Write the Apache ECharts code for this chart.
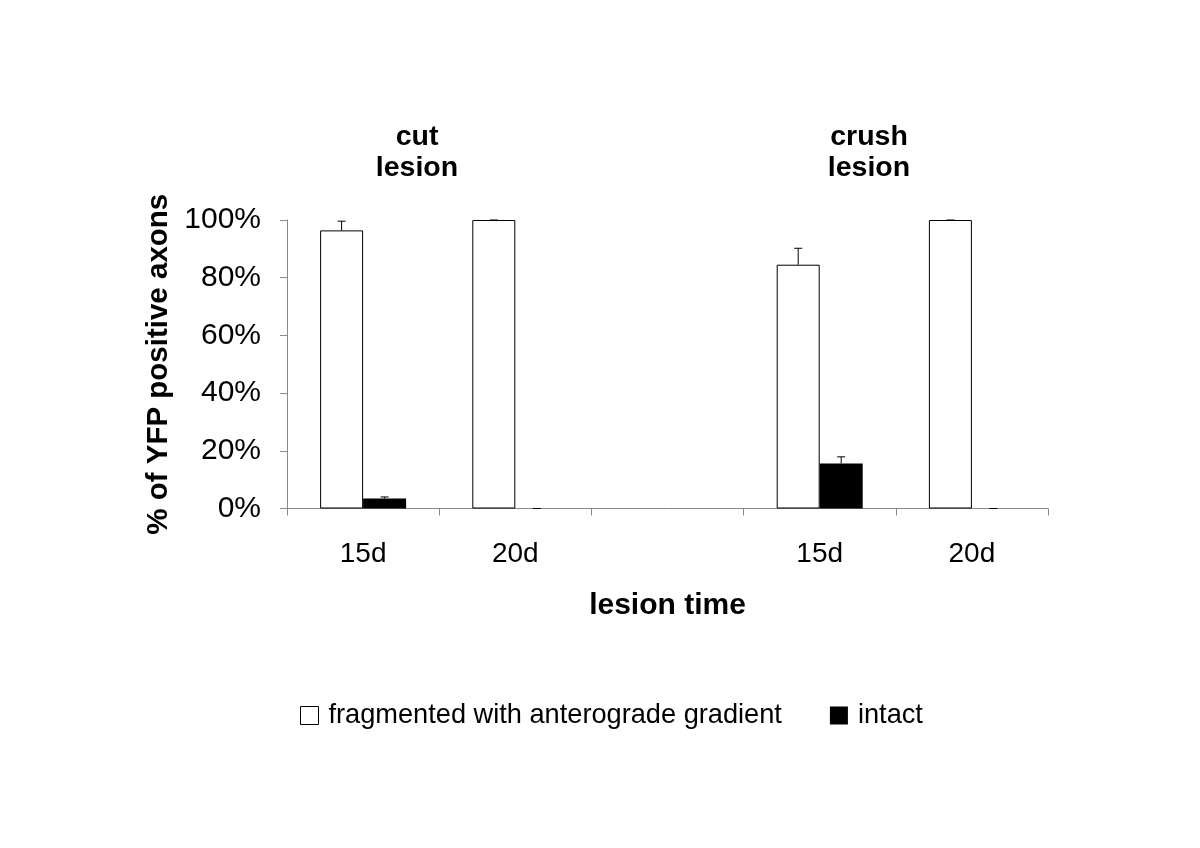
<!DOCTYPE html>
<html>
<head>
<meta charset="utf-8">
<script src="https://cdn.jsdelivr.net/npm/echarts@6/dist/echarts.min.js"></script>
<style>html,body{margin:0;padding:0;background:#fff}#c{width:1200px;height:848px}</style>
</head>
<body>
<div id="c"></div>
<script>
const categories = ['15d', '20d', '', '15d', '20d'];
const fragmented = [96.4, 100, null, 84.5, 100];
const fragmentedErr = [3.2, 0, null, 5.7, 0];
const intact = [3.5, 0, null, 15.6, 0];
const intactErr = [0.5, 0, null, 2.3, 0];
const yTicks = [0, 20, 40, 60, 80, 100];
const groupTitles = ['cut\nlesion', 'crush\nlesion'];

const FONT = '"Liberation Sans", Arial, sans-serif';
const BAR_W = 43;

function errData(vals, errs) {
  const out = [];
  vals.forEach((v, i) => { if (v !== null) out.push([i, v, errs[i]]); });
  return out;
}
function errSeries(name, vals, errs, offset) {
  return {
    type: 'custom', name: name, z: 5,
    data: errData(vals, errs),
    renderItem: function (params, api) {
      const i = api.value(0), v = api.value(1), e = api.value(2);
      const base = api.coord([i, v]);
      const top = api.coord([i, v + e]);
      const x = base[0] + offset;
      const cap = 4;
      return {
        type: 'group',
        children: [
          { type: 'line', shape: { x1: x, y1: base[1], x2: x, y2: top[1] }, style: { stroke: '#000', lineWidth: 1 } },
          { type: 'line', shape: { x1: x - cap, y1: top[1], x2: x + cap, y2: top[1] }, style: { stroke: '#000', lineWidth: 1 } }
        ]
      };
    },
    tooltip: { show: false },
    silent: true
  };
}

const chart = echarts.init(document.getElementById('c'), null, { renderer: 'canvas' });
chart.setOption({
  backgroundColor: '#ffffff',
  animation: false,
  textStyle: { fontFamily: FONT },
  title: [
    { text: groupTitles[0], left: 412, top: 117, textAlign: 'center',
      textStyle: { fontFamily: FONT, fontSize: 28.5, fontWeight: 'bold', color: '#000', lineHeight: 31 } },
    { text: groupTitles[1], left: 864, top: 117, textAlign: 'center',
      textStyle: { fontFamily: FONT, fontSize: 28.5, fontWeight: 'bold', color: '#000', lineHeight: 31 } }
  ],
  legend: {
    left: 295, top: 697,
    itemWidth: 18, itemHeight: 18, itemGap: 48,
    icon: 'rect',
    textStyle: { fontFamily: FONT, fontSize: 27.2, color: '#000', padding: [0, 0, 0, 5] },
    data: [
      { name: 'fragmented with anterograde gradient', itemStyle: { color: '#fff', borderColor: '#000', borderWidth: 1 } },
      { name: 'intact', itemStyle: { color: '#000' } }
    ]
  },
  grid: { left: 287, right: 152, top: 220, bottom: 339.5, containLabel: false },
  xAxis: {
    type: 'category',
    data: categories,
    name: 'lesion time',
    nameLocation: 'middle',
    nameGap: 82,
    nameTextStyle: { fontFamily: FONT, fontSize: 30, fontWeight: 'bold', color: '#000' },
    axisLine: { lineStyle: { color: '#8a8a8a', width: 1 } },
    axisTick: { show: true, length: 7, lineStyle: { color: '#8a8a8a' } },
    axisLabel: { fontFamily: FONT, fontSize: 28, color: '#000', margin: 32 },
    splitLine: { show: false }
  },
  yAxis: {
    type: 'value',
    min: 0, max: 100, interval: 20,
    name: '% of YFP positive axons',
    nameLocation: 'middle',
    nameGap: 113,
    nameRotate: 90,
    nameTextStyle: { fontFamily: FONT, fontSize: 29.5, fontWeight: 'bold', color: '#000' },
    axisLine: { show: true, lineStyle: { color: '#8a8a8a', width: 1 } },
    axisTick: { show: true, length: 7, lineStyle: { color: '#8a8a8a' } },
    axisLabel: {
      fontFamily: FONT, fontSize: 30, color: '#000', margin: 26,
      formatter: function (v) { return yTicks.indexOf(v) >= 0 ? v + '%' : ''; }
    },
    splitLine: { show: false }
  },
  series: [
    {
      name: 'fragmented with anterograde gradient', type: 'bar',
      data: fragmented, barWidth: BAR_W, barGap: '0%',
      itemStyle: { color: '#fff', borderColor: '#000', borderWidth: 1 }
    },
    {
      name: 'intact', type: 'bar',
      data: intact, barWidth: BAR_W, barGap: '0%',
      itemStyle: { color: '#000', borderWidth: 0 }
    },
    errSeries('errFrag', fragmented, fragmentedErr, -BAR_W / 2),
    errSeries('errIntact', intact, intactErr, BAR_W / 2)
  ]
});
</script>
</body>
</html>
